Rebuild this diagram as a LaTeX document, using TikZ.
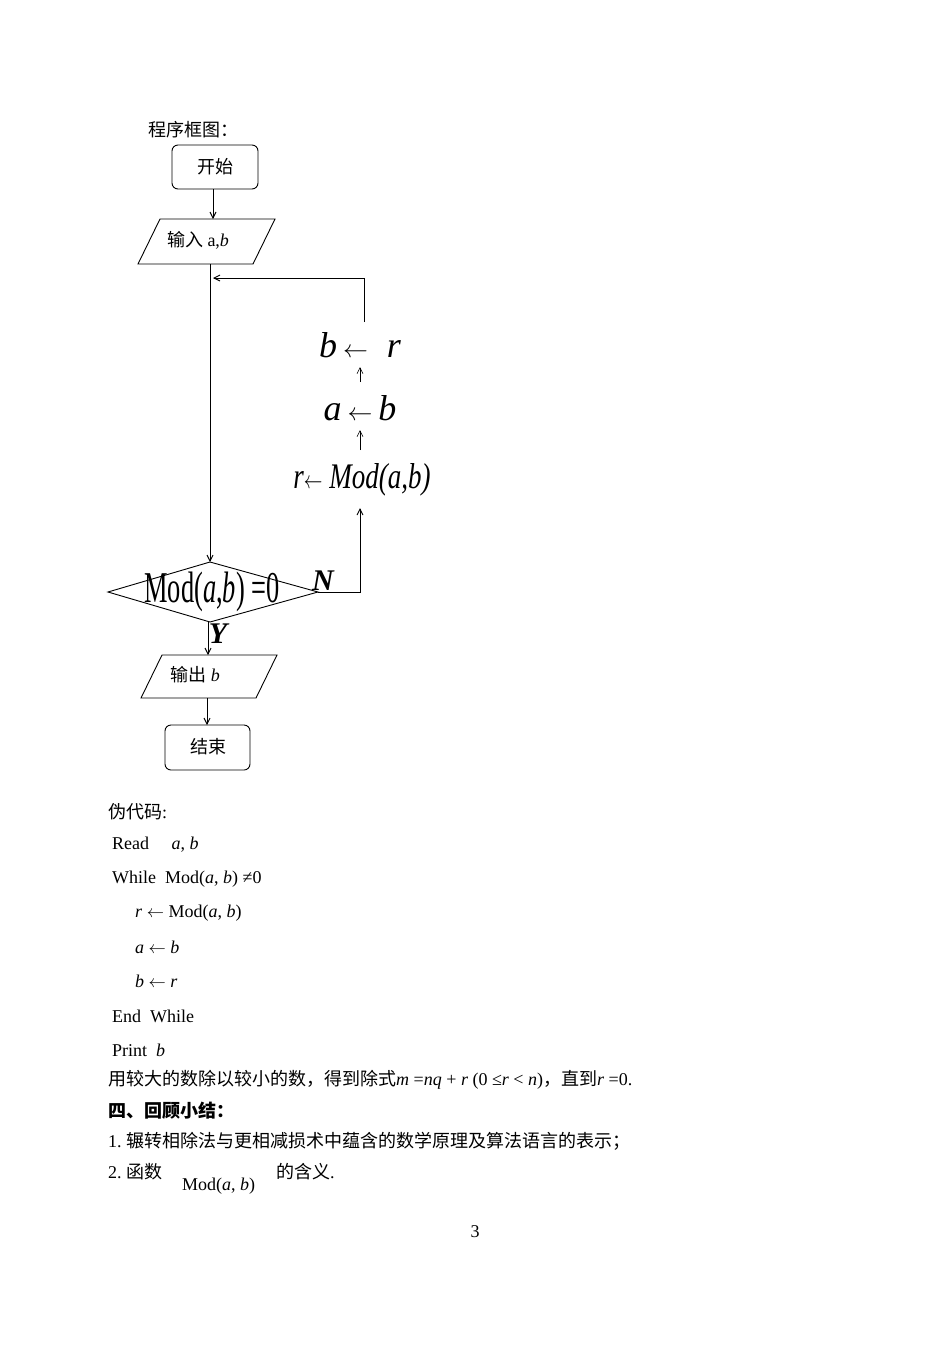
\documentclass[tikz,border=0pt]{standalone}
\usepackage{fontspec}
\setmainfont{Liberation Serif}
\newfontfamily\cjk{Noto Sans CJK SC}
\usetikzlibrary{arrows.meta}
\begin{document}
\begin{tikzpicture}[x=1pt,y=-1pt,
  every node/.style={inner sep=0pt,font=\fontsize{18}{20}\selectfont},
  ln/.style={line width=0.9pt},
  ar/.style={ln,-{Straight Barb[length=6pt,width=6pt]}},
  txt/.style={anchor=west},
  big/.style={font=\fontsize{36}{40}\selectfont\itshape}]
\useasboundingbox (0,0) rectangle (950,1350);
\node[txt] (title) at (148,130) {\cjk 程序框图：};
\draw[ln,rounded corners=6pt] (172,145) rectangle (258,189);
\node (start) at (215,167) {\cjk 开始};
\coordinate (s1) at (213,189); \coordinate (s2) at (213,219);
\draw[ar] (s1) -- (s2);
\draw[ln] (160,219) -- (275,219) -- (253,264) -- (138,264) -- cycle;
\node (in) at (198,240) {{\cjk 输入} a,\textit{b}};
\coordinate (d1) at (210,264); \coordinate (dt) at (210,562);
\draw[ar] (d1) -- (dt);
\draw[ln] (108,592) -- (210,562) -- (318,592) -- (210,622) -- cycle;
\node[xscale=0.6,font=\fontsize{44}{48}\selectfont] (cond) at (212,592) {Mod(\textit{a},\textit{b}) =0};
\node[font=\fontsize{30}{32}\selectfont\bfseries\itshape] (N) at (323,581) {N};
\node[font=\fontsize{30}{32}\selectfont\bfseries\itshape] (Y) at (218,634) {Y};
\coordinate (c1) at (318,592); \coordinate (c2) at (360,592); \coordinate (c3) at (360,508);
\draw[ar] (c1) -- (c2) -- (c3);
\node[big,xscale=0.75] (r) at (362,480) {r$\leftarrow$ Mod(a,b)};
\node[big] (a) at (360,408) {a\,$\leftarrow$\,b};
\node[big] (b) at (360,345) {b\,$\leftarrow$\; r};
\coordinate (k1) at (360,450); \coordinate (k2) at (360,430);
\draw[ar,line width=0.6pt] (k1) -- (k2);
\coordinate (k3) at (360,382); \coordinate (k4) at (360,367);
\draw[ar,line width=0.6pt] (k3) -- (k4);
\coordinate (l1) at (364,322); \coordinate (l2) at (364,278); \coordinate (l3) at (213,278);
\draw[ar] (l1) -- (l2) -- (l3);
\coordinate (o1) at (208,622); \coordinate (o2) at (208,655);
\draw[ar] (o1) -- (o2);
\draw[ln] (162,655) -- (277,655) -- (256,698) -- (141,698) -- cycle;
\node (out) at (195,675) {{\cjk 输出} \textit{b}};
\coordinate (e1) at (207,698); \coordinate (e2) at (207,725);
\draw[ar] (e1) -- (e2);
\draw[ln,rounded corners=6pt] (165,725) rectangle (250,770);
\node (end) at (208,747) {\cjk 结束};
\node[txt] (p0) at (108,812) {{\cjk 伪代码}:};
\node[txt] (p1) at (112,845) {Read \quad \textit{a}, \textit{b}};
\node[txt] (p2) at (112,879) {While\ \ Mod(\textit{a}, \textit{b}) ≠0};
\node[txt] (p3) at (135,913) {\textit{r} $\leftarrow$ Mod(\textit{a}, \textit{b})};
\node[txt] (p4) at (135,947) {\textit{a} $\leftarrow$ \textit{b}};
\node[txt] (p5) at (135,981) {\textit{b} $\leftarrow$ \textit{r}};
\node[txt] (p6) at (112,1016) {End\ \ While};
\node[txt] (p7) at (112,1050) {Print\ \ \textit{b}};
\node[txt] (t1) at (108,1080) {{\cjk 用较大的数除以较小的数，得到除式}\textit{m} =\textit{nq} + \textit{r} (0 ≤\textit{r} < \textit{n}){\cjk ，直到}\textit{r} =0.};
\node[txt] (t2) at (108,1111) {\cjk\bfseries 四、回顾小结：};
\node[txt] (t3) at (108,1141) {1.\ {\cjk 辗转相除法与更相减损术中蕴含的数学原理及算法语言的表示；}};
\node[txt] (t4) at (108,1172) {2.\ {\cjk 函数}};
\node[txt] (t5) at (182,1186) {Mod(\textit{a}, \textit{b})};
\node[txt] (t6) at (276,1172) {{\cjk 的含义}.};
\node (pg) at (475,1232) {3};
\end{tikzpicture}
\end{document}
